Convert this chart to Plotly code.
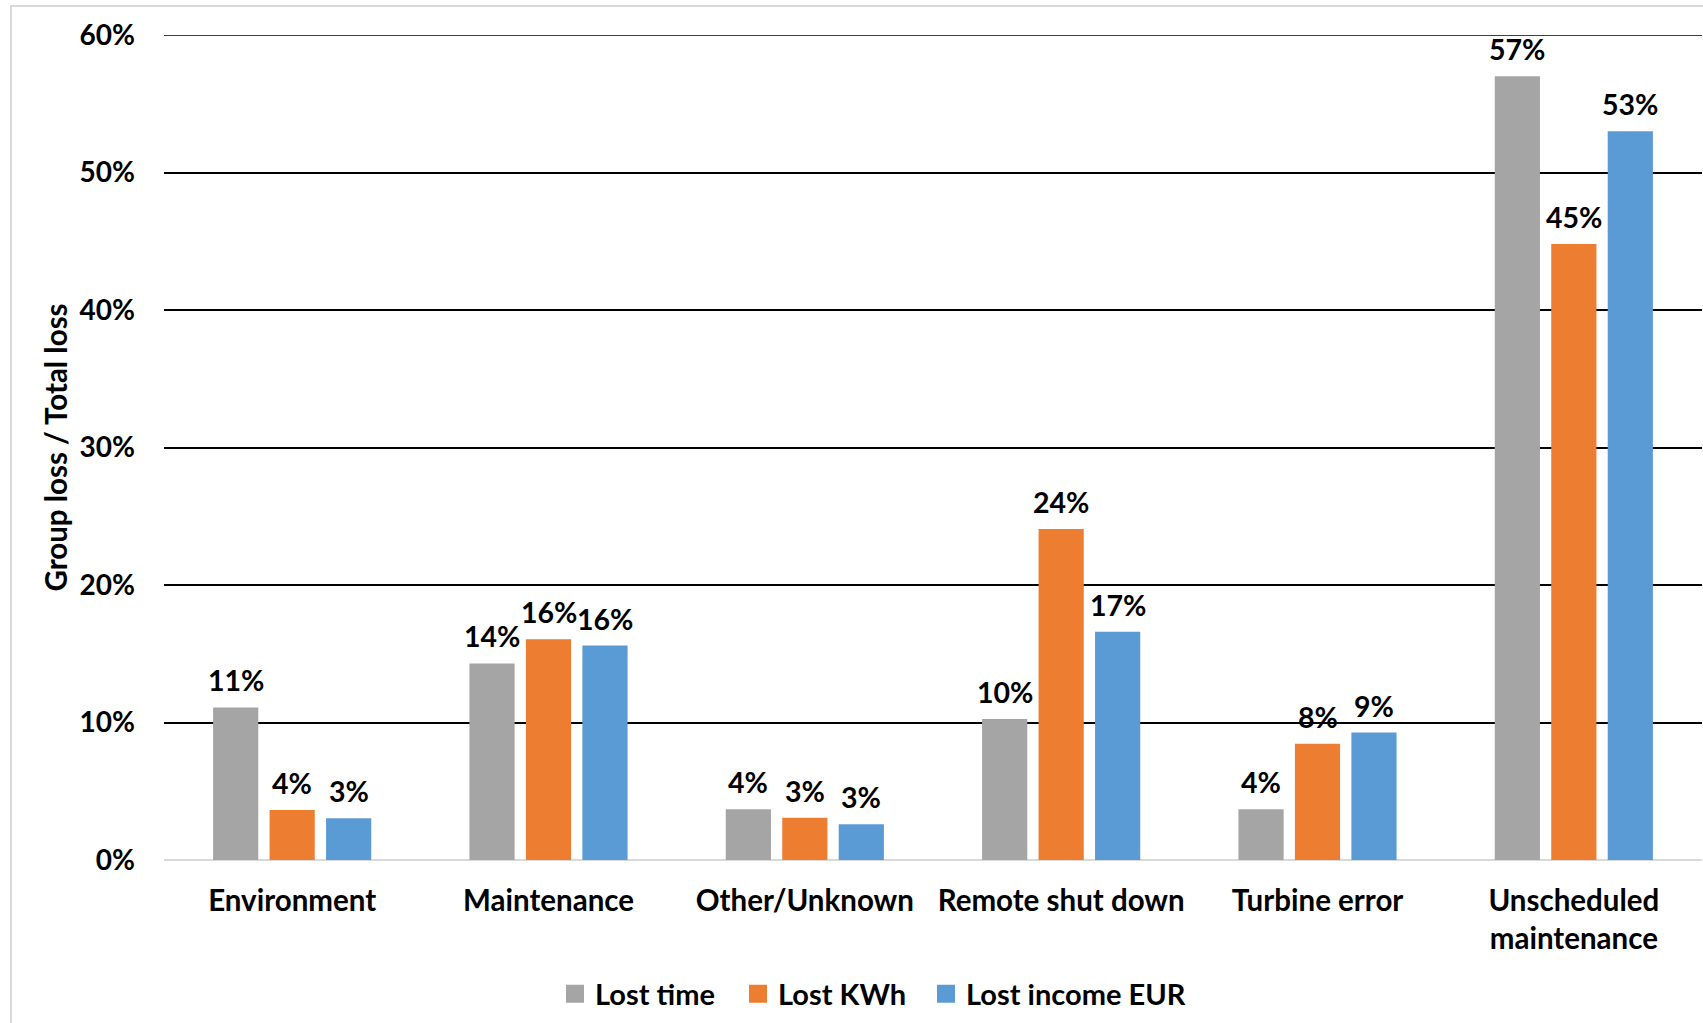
import plotly.graph_objects as go

# Share of total loss per stop group, for three loss measures
categories = [
    "Environment",
    "Maintenance",
    "Other/Unknown",
    "Remote shut down",
    "Turbine error",
    "Unscheduled<br>maintenance",
]
lost_time = [0.111, 0.143, 0.037, 0.1025, 0.037, 0.570]
lost_kwh = [0.0364, 0.1605, 0.0308, 0.2407, 0.0845, 0.448]
lost_income = [0.0303, 0.156, 0.026, 0.166, 0.0927, 0.530]

series_names = ["Lost time", "Lost KWh", "Lost income EUR"]
series_colors = ["#A5A5A5", "#ED7D31", "#5B9BD5"]
y_ticks = [0, 0.1, 0.2, 0.3, 0.4, 0.5, 0.6]

W, H = 1703, 1023
M = dict(l=164, r=1, t=35, b=163)
PW = W - M["l"] - M["r"]
PH = H - M["t"] - M["b"]
BARGAP = 0.339
GROUPGAP = 0.2
LEGEND_LEFT = [555, 738, 926]  # left edge of each legend entry, px


def bold(size):
    return dict(family="Lato", size=size, color="black", weight="bold")


def px_x(p):
    return (p - M["l"]) / PW


def px_y(p):
    return (H - M["b"] - p) / PH


series = [lost_time, lost_kwh, lost_income]
x = list(range(len(categories)))
slot = (1 - BARGAP) / len(series)
legend_ids = ["legend", "legend2", "legend3"]

fig = go.Figure()
for k, (name, vals, col) in enumerate(zip(series_names, series, series_colors)):
    fig.add_bar(x=x, y=vals, name=name, marker=dict(color=col, line_width=0),
                showlegend=False)
    # legend entry with a larger square swatch
    fig.add_scatter(x=[None], y=[None], mode="markers", name=name,
                    legend=legend_ids[k],
                    marker=dict(symbol="square", size=16, color=col,
                                line=dict(color=col, width=2)))
    offset = (k - (len(series) - 1) / 2) * slot
    for xi, v in zip(x, vals):
        fig.add_annotation(x=xi + offset, y=v, xref="x", yref="y",
                           text=f"{v:.0%}", showarrow=False,
                           yanchor="bottom", yshift=8, font=bold(28.5))

# top gridline sits on the plot edge, so draw it explicitly
fig.add_shape(type="line", xref="paper", x0=0, x1=1, yref="y",
              y0=y_ticks[-1], y1=y_ticks[-1],
              line=dict(color="black", width=1.5), layer="below")

# light frame around the chart area
fig.add_shape(type="rect", xref="paper", yref="paper",
              x0=px_x(11), x1=px_x(1730), y0=px_y(1040), y1=px_y(6),
              line=dict(color="#D9D9D9", width=2),
              fillcolor="rgba(0,0,0,0)", layer="below")

legends = {
    lid: dict(orientation="h", x=px_x(left), xanchor="left",
              y=px_y(994), yanchor="middle", font=bold(29),
              bgcolor="rgba(0,0,0,0)")
    for lid, left in zip(legend_ids, LEGEND_LEFT)
}

fig.update_layout(
    width=W, height=H, margin=M,
    paper_bgcolor="white", plot_bgcolor="white",
    barmode="group", bargap=BARGAP, bargroupgap=GROUPGAP,
    font=bold(28),
    **legends,
    xaxis=dict(range=[-0.5, len(categories) - 0.5], tickvals=x,
               ticktext=categories, showgrid=False, zeroline=False,
               showline=False, ticks="", tickfont=bold(29.5),
               ticklabelstandoff=20, fixedrange=True),
    yaxis=dict(range=[0, 0.6], tickvals=y_ticks, tickformat=".0%",
               showgrid=True, gridcolor="black", gridwidth=1.5,
               zeroline=True, zerolinecolor="#D9D9D9", zerolinewidth=2,
               showline=False, ticks="", tickfont=bold(28),
               ticklabelstandoff=28,
               title=dict(text="Group loss / Total loss", font=bold(29.5),
                          standoff=3)),
)

fig.write_html("out.html")
